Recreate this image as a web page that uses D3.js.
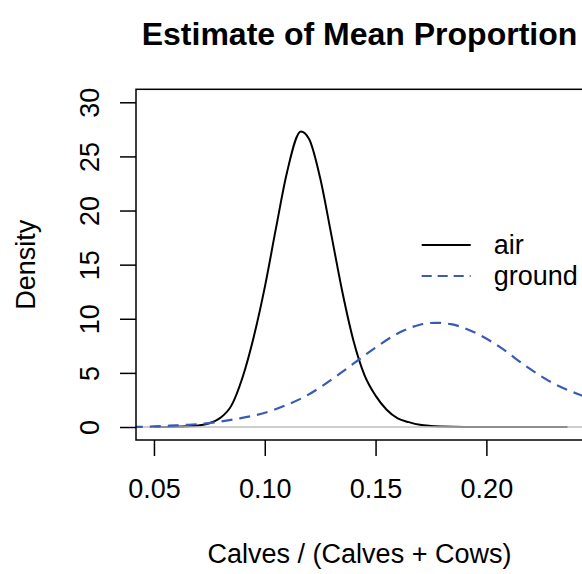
<!DOCTYPE html>
<html>
<head>
<meta charset="utf-8">
<script src="https://cdn.jsdelivr.net/npm/d3@7"></script>
<style>
  body { margin: 0; background: #fff; }
  svg text { font-family: "Liberation Sans", Arial, Helvetica, sans-serif; fill: #000; }
</style>
</head>
<body>
<div class="chart"></div>
<script>
// density estimates

var airX = [0.050, 0.060, 0.070, 0.075, 0.080, 0.085, 0.090, 0.095, 0.100, 0.105, 0.110, 0.1163,
            0.120, 0.125, 0.130, 0.135, 0.140, 0.145, 0.150, 0.155, 0.160, 0.165, 0.170, 0.175,
            0.180, 0.190, 0.2366];
var airY = [0.01, 0.03, 0.15, 0.35, 0.85, 2.0, 4.6, 8.3, 12.9, 18.3, 23.5, 27.3,
            26.6, 23.0, 17.8, 12.5, 8.0, 4.8, 2.9, 1.6, 0.8, 0.45, 0.2, 0.1,
            0.05, 0.01, 0];

var groundX = [0.040, 0.050, 0.057, 0.065, 0.072, 0.080, 0.087, 0.095, 0.102, 0.110, 0.118, 0.126,
               0.134, 0.140, 0.149, 0.161, 0.170, 0.177, 0.184, 0.194, 0.206, 0.218, 0.230,
               0.2425, 0.250];
var groundY = [0, 0.05, 0.12, 0.2, 0.3, 0.5, 0.74, 1.05, 1.44, 2.05, 2.8, 3.8,
               4.95, 5.85, 7.2, 8.75, 9.45, 9.63, 9.5, 8.8, 7.4, 5.6, 4.05,
               2.95, 2.4];

var xTicks = [0.05, 0.10, 0.15, 0.20];
var yTicks = [0, 5, 10, 15, 20, 25, 30];

var seriesNames = ['air', 'ground'];

var svgW = 582, svgH = 574;
var plotL = 136, plotR = 583, plotT = 89.3, plotB = 440;

var svg = d3.select('.chart')
	.append('svg')
	.attr('width', svgW)
	.attr('height', svgH);

var x = d3.scaleLinear().domain([0.0419, 0.2436]).range([plotL, plotR]);
var y = d3.scaleLinear().domain([-1.2, 31.2]).range([plotB, plotT]);

svg.append('clipPath')
	.attr('id', 'plotclip')
	.append('rect')
	.attr('x', plotL)
	.attr('y', plotT)
	.attr('width', plotR - plotL)
	.attr('height', plotB - plotT);

var line = d3.line()
	.x(function(d){ return x(d[0]); })
	.y(function(d){ return y(d[1]); })
	.curve(d3.curveMonotoneX);

var plot = svg.append('g').attr('clip-path', 'url(#plotclip)');

// air curve first, grey zero line over it, then the ground curve
plot.append('path')
	.datum(d3.zip(airX, airY))
	.attr('d', line)
	.attr('fill', 'none')
	.attr('stroke', '#000')
	.attr('stroke-width', 2);

plot.append('line')
	.attr('x1', plotL)
	.attr('x2', plotR)
	.attr('y1', y(0))
	.attr('y2', y(0))
	.attr('stroke', '#bebebe')
	.attr('stroke-width', 1.5);

plot.append('path')
	.datum(d3.zip(groundX, groundY))
	.attr('d', line)
	.attr('fill', 'none')
	.attr('stroke', '#3a5bb5')
	.attr('stroke-width', 2.2)
	.attr('stroke-dasharray', '11,7');

// box
svg.append('rect')
	.attr('x', plotL)
	.attr('y', plotT)
	.attr('width', plotR - plotL)
	.attr('height', plotB - plotT)
	.attr('fill', 'none')
	.attr('stroke', '#000')
	.attr('stroke-width', 1.5);

// axes

var xAxis = svg.append('g')
	.attr('transform', 'translate(0,' + plotB + ')')
	.call(d3.axisBottom(x).tickValues(xTicks).tickSize(16).tickFormat(d3.format('.2f')));

var yAxis = svg.append('g')
	.attr('transform', 'translate(' + plotL + ',0)')
	.call(d3.axisLeft(y).tickValues(yTicks).tickSize(16).tickFormat(d3.format('d')));

[xAxis, yAxis].forEach(function(a){
	a.select('.domain').remove();
	a.selectAll('.tick line').attr('stroke', '#000').attr('stroke-width', 1.5);
	a.selectAll('.tick text')
		.style('font-size', '27px')
		.attr('fill', '#000');
});

xAxis.selectAll('.tick text')
	.attr('y', 58)
	.attr('dy', null);

yAxis.selectAll('.tick text')
	.attr('x', 0)
	.attr('y', -37)
	.attr('dy', null)
	.attr('text-anchor', 'middle')
	.attr('transform', 'rotate(-90)');

// titles

svg.append('text')
	.attr('x', (plotL + plotR) / 2)
	.attr('y', 45)
	.attr('text-anchor', 'middle')
	.style('font-size', '32px')
	.style('font-weight', 'bold')
	.text('Estimate of Mean Proportion');

svg.append('text')
	.attr('x', (plotL + plotR) / 2)
	.attr('y', 563)
	.attr('text-anchor', 'middle')
	.style('font-size', '27px')
	.text('Calves / (Calves + Cows)');

svg.append('text')
	.attr('transform', 'translate(35,' + ((plotT + plotB) / 2) + ') rotate(-90)')
	.attr('text-anchor', 'middle')
	.style('font-size', '27px')
	.text('Density');

// legend

var legend = svg.selectAll('.legend')
	.data(seriesNames)
	.enter().append('g')
	.attr('class', 'legend')
	.attr('transform', function(d,i){ return 'translate(421.7,' + (245 + i * 31) + ')'; });

legend.append('line')
	.attr('x1', 0)
	.attr('x2', 49)
	.attr('stroke', function(d,i){ return i == 0 ? '#000' : '#3a5bb5'; })
	.attr('stroke-width', function(d,i){ return i == 0 ? 2 : 2.2; })
	.attr('stroke-dasharray', function(d,i){ return i == 0 ? null : '10,6'; });

legend.append('text')
	.attr('x', 72)
	.attr('y', 8.5)
	.style('font-size', '27px')
	.text(function(d){ return d; });
</script>
</body>
</html>
